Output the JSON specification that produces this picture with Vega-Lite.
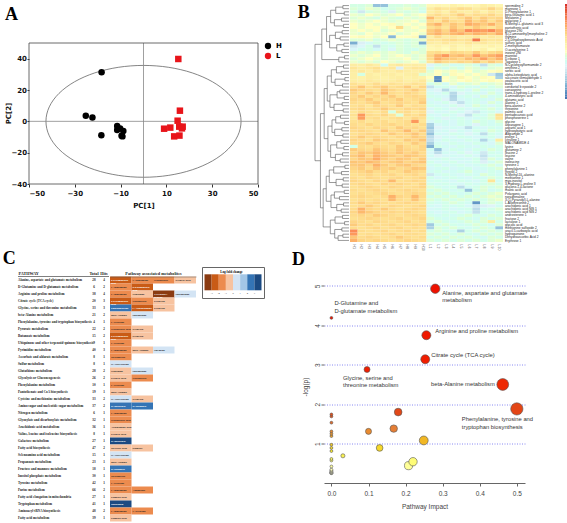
{
"$schema":"https://vega.github.io/schema/vega-lite/v6.json",
"padding":{"left":2,"top":2,"right":0,"bottom":0},
"background":"white",
"config":{"view":{"stroke":null},"font":"Liberation Sans","legend":{"gradientLength":57,"gradientHorizontalMinLength":10,"gradientHorizontalMaxLength":300}},
"datasets":{
"pca":[
{"group":"H","pc1":-18.3,"pc2":31.4},{"group":"H","pc1":-25.2,"pc2":3.6},{"group":"H","pc1":-22.3,"pc2":2.4},{"group":"H","pc1":-18.4,"pc2":-8.9},{"group":"H","pc1":-11.5,"pc2":-3.0},{"group":"H","pc1":-11.5,"pc2":-5.5},{"group":"H","pc1":-10.2,"pc2":-4.5},{"group":"H","pc1":-8.8,"pc2":-6.2},{"group":"H","pc1":-9.2,"pc2":-9.6},{"group":"H","pc1":-9.6,"pc2":-9.2},
{"group":"L","pc1":15.2,"pc2":39.8},{"group":"L","pc1":15.9,"pc2":6.8},{"group":"L","pc1":14.9,"pc2":0.4},{"group":"L","pc1":9.0,"pc2":-4.7},{"group":"L","pc1":11.7,"pc2":-4.0},{"group":"L","pc1":15.6,"pc2":-3.4},{"group":"L","pc1":17.1,"pc2":-3.4},{"group":"L","pc1":16.8,"pc2":-4.5},{"group":"L","pc1":13.4,"pc2":-9.6},{"group":"L","pc1":15.7,"pc2":-9.1}],
"ellipse":[
{"i":0,"pc1":42.6,"pc2":0},{"i":1,"pc1":41.15,"pc2":9.24},{"i":2,"pc1":36.89,"pc2":17.85},{"i":3,"pc1":30.12,"pc2":25.24},{"i":4,"pc1":21.3,"pc2":30.92},{"i":5,"pc1":11.03,"pc2":34.48},{"i":6,"pc1":0,"pc2":35.7},{"i":7,"pc1":-11.03,"pc2":34.48},{"i":8,"pc1":-21.3,"pc2":30.92},{"i":9,"pc1":-30.12,"pc2":25.24},{"i":10,"pc1":-36.89,"pc2":17.85},{"i":11,"pc1":-41.15,"pc2":9.24},{"i":12,"pc1":-42.6,"pc2":0},{"i":13,"pc1":-41.15,"pc2":-9.24},{"i":14,"pc1":-36.89,"pc2":-17.85},{"i":15,"pc1":-30.12,"pc2":-25.24},{"i":16,"pc1":-21.3,"pc2":-30.92},{"i":17,"pc1":-11.03,"pc2":-34.48},{"i":18,"pc1":0,"pc2":-35.7},{"i":19,"pc1":11.03,"pc2":-34.48},{"i":20,"pc1":21.3,"pc2":-30.92},{"i":21,"pc1":30.12,"pc2":-25.24},{"i":22,"pc1":36.89,"pc2":-17.85},{"i":23,"pc1":41.15,"pc2":-9.24}],
"cbar":[{"v":-4},{"v":-3.8},{"v":-3.6},{"v":-3.4},{"v":-3.2},{"v":-3},{"v":-2.8},{"v":-2.6},{"v":-2.4},{"v":-2.2},{"v":-2},{"v":-1.8},{"v":-1.6},{"v":-1.4},{"v":-1.2},{"v":-1},{"v":-0.8},{"v":-0.6},{"v":-0.4},{"v":-0.2},{"v":0},{"v":0.2},{"v":0.4},{"v":0.6},{"v":0.8},{"v":1},{"v":1.2},{"v":1.4},{"v":1.6},{"v":1.8},{"v":2},{"v":2.2},{"v":2.4},{"v":2.6},{"v":2.8},{"v":3},{"v":3.2},{"v":3.4},{"v":3.6},{"v":3.8},{"v":4}],
"dendro":[
{"a":1,"b":2,"ha":0,"hb":0,"h":1.8},{"a":3,"b":4,"ha":0,"hb":0,"h":1.4},{"a":5,"b":6,"ha":0,"hb":0,"h":2.2},{"a":7,"b":8,"ha":0,"hb":0,"h":1.6},{"a":9,"b":10,"ha":0,"hb":0,"h":2.0},{"a":11,"b":12,"ha":0,"hb":0,"h":2.6},{"a":13,"b":14,"ha":0,"hb":0,"h":1.5},{"a":15,"b":16,"ha":0,"hb":0,"h":2.1},{"a":17,"b":18,"ha":0,"hb":0,"h":1.3},
{"a":17.5,"b":19,"ha":1.3,"hb":0,"h":3.0},{"a":1.5,"b":3.5,"ha":1.8,"hb":1.4,"h":3.9},{"a":5.5,"b":7.5,"ha":2.2,"hb":1.6,"h":4.3},{"a":9.5,"b":11.5,"ha":2.0,"hb":2.6,"h":4.0},{"a":13.5,"b":15.5,"ha":1.5,"hb":2.1,"h":3.6},
{"a":2.5,"b":6.5,"ha":3.9,"hb":4.3,"h":5.4},{"a":10.5,"b":14.5,"ha":4.0,"hb":3.6,"h":5.7},{"a":4.5,"b":12.5,"ha":5.4,"hb":5.7,"h":6.6},{"a":8.5,"b":18.25,"ha":6.6,"hb":3.0,"h":8.0},
{"a":20,"b":21,"ha":0,"hb":0,"h":1.6},{"a":22,"b":23,"ha":0,"hb":0,"h":2.3},{"a":24,"b":25,"ha":0,"hb":0,"h":1.2},{"a":26,"b":27,"ha":0,"hb":0,"h":1.9},{"a":28,"b":29,"ha":0,"hb":0,"h":2.7},{"a":30,"b":31,"ha":0,"hb":0,"h":1.4},{"a":32,"b":33,"ha":0,"hb":0,"h":2.0},{"a":34,"b":35,"ha":0,"hb":0,"h":1.7},{"a":36,"b":37,"ha":0,"hb":0,"h":2.5},{"a":38,"b":39,"ha":0,"hb":0,"h":1.3},{"a":40,"b":41,"ha":0,"hb":0,"h":2.1},{"a":42,"b":43,"ha":0,"hb":0,"h":1.8},{"a":44,"b":45,"ha":0,"hb":0,"h":2.4},{"a":46,"b":47,"ha":0,"hb":0,"h":1.5},{"a":48,"b":49,"ha":0,"hb":0,"h":1.9},{"a":50,"b":51,"ha":0,"hb":0,"h":2.6},{"a":52,"b":53,"ha":0,"hb":0,"h":1.2},{"a":54,"b":55,"ha":0,"hb":0,"h":2.2},{"a":56,"b":57,"ha":0,"hb":0,"h":1.7},{"a":58,"b":59,"ha":0,"hb":0,"h":2.0},{"a":60,"b":61,"ha":0,"hb":0,"h":1.4},{"a":62,"b":63,"ha":0,"hb":0,"h":2.8},{"a":64,"b":65,"ha":0,"hb":0,"h":1.6},{"a":66,"b":67,"ha":0,"hb":0,"h":2.3},{"a":68,"b":69,"ha":0,"hb":0,"h":1.9},{"a":70,"b":71,"ha":0,"hb":0,"h":1.3},{"a":72,"b":73,"ha":0,"hb":0,"h":2.1},{"a":74,"b":75,"ha":0,"hb":0,"h":1.8},
{"a":74.5,"b":76,"ha":1.8,"hb":0,"h":3.2},
{"a":20.5,"b":22.5,"ha":1.6,"hb":2.3,"h":3.7},{"a":24.5,"b":26.5,"ha":1.2,"hb":1.9,"h":4.1},{"a":28.5,"b":30.5,"ha":2.7,"hb":1.4,"h":3.5},{"a":32.5,"b":34.5,"ha":2.0,"hb":1.7,"h":4.4},{"a":36.5,"b":38.5,"ha":2.5,"hb":1.3,"h":3.9},{"a":40.5,"b":42.5,"ha":2.1,"hb":1.8,"h":4.2},{"a":44.5,"b":46.5,"ha":2.4,"hb":1.5,"h":3.6},{"a":48.5,"b":50.5,"ha":1.9,"hb":2.6,"h":4.0},{"a":52.5,"b":54.5,"ha":1.2,"hb":2.2,"h":4.5},{"a":56.5,"b":58.5,"ha":1.7,"hb":2.0,"h":3.8},{"a":60.5,"b":62.5,"ha":1.4,"hb":2.8,"h":4.3},{"a":64.5,"b":66.5,"ha":1.6,"hb":2.3,"h":3.6},{"a":68.5,"b":70.5,"ha":1.9,"hb":1.3,"h":4.1},{"a":72.5,"b":75.25,"ha":2.1,"hb":3.2,"h":4.2},
{"a":21.5,"b":25.5,"ha":3.7,"hb":4.1,"h":5.2},{"a":29.5,"b":33.5,"ha":3.5,"hb":4.4,"h":5.6},{"a":37.5,"b":41.5,"ha":3.9,"hb":4.2,"h":5.0},{"a":45.5,"b":49.5,"ha":3.6,"hb":4.0,"h":5.4},{"a":53.5,"b":57.5,"ha":4.5,"hb":3.8,"h":5.8},{"a":61.5,"b":65.5,"ha":4.3,"hb":3.6,"h":5.3},{"a":69.5,"b":73.875,"ha":4.1,"hb":4.2,"h":5.5},
{"a":23.5,"b":31.5,"ha":5.2,"hb":5.6,"h":6.4},{"a":39.5,"b":47.5,"ha":5.0,"hb":5.4,"h":6.2},{"a":55.5,"b":63.5,"ha":5.8,"hb":5.3,"h":6.7},
{"a":27.5,"b":43.5,"ha":6.4,"hb":6.2,"h":7.3},{"a":59.5,"b":71.6875,"ha":6.7,"hb":5.5,"h":7.6},
{"a":35.5,"b":65.59375,"ha":7.3,"hb":7.6,"h":8.4},
{"a":13.375,"b":50.546875,"ha":8.0,"hb":8.4,"h":10}],
"heat":[
{"o":1,"m":"spermidine 2","H1":-0.6,"H2":-0.6,"H3":-0.4,"H4":-2.6,"H5":-2.6,"H6":-0.6,"H7":-0.6,"H8":-0.4,"H9":-0.6,"H10":-0.4,"L1":0.3,"L2":0.4,"L3":0.3,"L4":0.6,"L5":0.4,"L6":0.3,"L7":0.4,"L8":0.7,"L9":0.6,"L10":0.4},
{"o":2,"m":"mannose 1","H1":-0.4,"H2":-0.6,"H3":-0.2,"H4":-0.4,"H5":-0.8,"H6":-0.6,"H7":-0.4,"H8":-0.2,"H9":-0.4,"H10":-0.6,"L1":0.8,"L2":1.3,"L3":1.0,"L4":1.1,"L5":1.4,"L6":1.3,"L7":0.8,"L8":1.1,"L9":1.5,"L10":1.0},
{"o":3,"m":"D-Phenylalanine 1","H1":-0.6,"H2":-1.6,"H3":-0.6,"H4":-0.4,"H5":-0.6,"H6":-1.4,"H7":-0.4,"H8":-0.6,"H9":-0.4,"H10":-0.8,"L1":0.7,"L2":1.0,"L3":0.6,"L4":1.3,"L5":0.8,"L6":0.7,"L7":1.1,"L8":0.6,"L9":1.0,"L10":0.8},
{"o":4,"m":"beta-Glutamic acid 1","H1":-0.2,"H2":-0.4,"H3":0,"H4":-0.2,"H5":-0.4,"H6":-0.2,"H7":0,"H8":-0.4,"H9":-0.2,"H10":0,"L1":1.1,"L2":1.4,"L3":1.0,"L4":1.3,"L5":1.7,"L6":1.1,"L7":1.4,"L8":1.3,"L9":1.5,"L10":1.1},
{"o":5,"m":"Melatonin 2","H1":-0.4,"H2":-0.2,"H3":-0.4,"H4":-0.6,"H5":-0.2,"H6":-0.4,"H7":-0.6,"H8":-0.2,"H9":-0.4,"H10":-0.2,"L1":2.0,"L2":1.3,"L3":1.5,"L4":1.1,"L5":1.4,"L6":1.8,"L7":1.3,"L8":1.7,"L9":1.4,"L10":1.5},
{"o":6,"m":"galactose 1","H1":-0.2,"H2":-0.4,"H3":-0.2,"H4":0,"H5":-0.2,"H6":-0.4,"H7":-0.2,"H8":-0.2,"H9":0,"H10":-0.4,"L1":1.4,"L2":1.1,"L3":1.7,"L4":1.4,"L5":1.3,"L6":2.0,"L7":1.5,"L8":1.8,"L9":1.3,"L10":1.7},
{"o":7,"m":"N-Methyl-L-glutamic acid 3","H1":0,"H2":-0.2,"H3":0,"H4":-0.2,"H5":0,"H6":0.2,"H7":-0.2,"H8":0,"H9":-0.2,"H10":0,"L1":1.7,"L2":2.1,"L3":1.4,"L4":1.8,"L5":1.5,"L6":2.2,"L7":2.0,"L8":1.7,"L9":2.1,"L10":1.5},
{"o":8,"m":"pantothenic acid","H1":0,"H2":-0.2,"H3":0,"H4":0,"H5":-0.2,"H6":0,"H7":1.4,"H8":-0.2,"H9":0,"H10":-0.2,"L1":1.3,"L2":1.5,"L3":1.1,"L4":1.8,"L5":1.4,"L6":1.3,"L7":1.7,"L8":1.4,"L9":1.1,"L10":1.5},
{"o":9,"m":"glucose 290","H1":-0.2,"H2":0,"H3":-0.2,"H4":0,"H5":-0.4,"H6":-0.2,"H7":0,"H8":-0.2,"H9":-0.2,"H10":0,"L1":1.7,"L2":2.0,"L3":1.5,"L4":2.2,"L5":1.8,"L6":2.7,"L7":2.5,"L8":2.4,"L9":2.7,"L10":2.1},
{"o":10,"m":"N-(2-aminoethyl)morpholine 2","H1":-0.2,"H2":-0.4,"H3":0,"H4":-0.2,"H5":-0.2,"H6":0,"H7":-0.4,"H8":-0.2,"H9":0,"H10":-0.2,"L1":1.8,"L2":2.1,"L3":1.7,"L4":2.0,"L5":2.2,"L6":1.8,"L7":2.1,"L8":2.0,"L9":1.7,"L10":2.2},
{"o":11,"m":"thymine","H1":0,"H2":0.2,"H3":0,"H4":-0.2,"H5":0,"H6":-2.8,"H7":0,"H8":0,"H9":0.2,"H10":-3.0,"L1":0.7,"L2":1.4,"L3":0.8,"L4":1.0,"L5":0.7,"L6":0.8,"L7":1.1,"L8":0.7,"L9":1.0,"L10":0.8},
{"o":12,"m":"2,5-Dihydroxybenzoic Acid","H1":-0.4,"H2":-0.4,"H3":-0.2,"H4":-0.6,"H5":-0.4,"H6":-0.2,"H7":-0.4,"H8":-0.6,"H9":-0.4,"H10":-0.2,"L1":1.1,"L2":1.0,"L3":1.3,"L4":1.4,"L5":1.1,"L6":1.3,"L7":3.0,"L8":1.3,"L9":1.0,"L10":1.1},
{"o":13,"m":"sulfuric acid","H1":-3.0,"H2":-1.4,"H3":-1.0,"H4":-0.6,"H5":-0.8,"H6":-0.6,"H7":-0.4,"H8":-0.6,"H9":-0.4,"H10":-3.0,"L1":0.8,"L2":0.7,"L3":1.0,"L4":0.8,"L5":0.7,"L6":1.1,"L7":0.8,"L8":1.0,"L9":0.7,"L10":0.8},
{"o":14,"m":"2-methylfumarate","H1":-1.6,"H2":-1.2,"H3":-0.6,"H4":-1.8,"H5":-0.6,"H6":-0.8,"H7":-0.4,"H8":-0.6,"H9":-0.4,"H10":-0.6,"L1":0.4,"L2":0.6,"L3":0.3,"L4":0.7,"L5":0.4,"L6":0.6,"L7":0.3,"L8":0.4,"L9":0.6,"L10":0.4},
{"o":15,"m":"O-acetylserine 1","H1":-1.2,"H2":-0.8,"H3":-0.6,"H4":-1.0,"H5":-0.6,"H6":-1.2,"H7":-0.4,"H8":-0.6,"H9":-0.8,"H10":-0.4,"L1":0.3,"L2":0.4,"L3":0.1,"L4":0.6,"L5":0.3,"L6":0.4,"L7":0.3,"L8":0.6,"L9":0.1,"L10":0.4},
{"o":16,"m":"inosine 2NI","H1":-0.4,"H2":-0.2,"H3":-0.4,"H4":-0.2,"H5":-0.4,"H6":-0.2,"H7":-0.4,"H8":-0.6,"H9":-0.2,"H10":-0.4,"L1":1.3,"L2":1.4,"L3":1.1,"L4":1.5,"L5":1.4,"L6":1.3,"L7":1.7,"L8":1.1,"L9":1.4,"L10":1.5},
{"o":17,"m":"mannitol","H1":-0.2,"H2":-0.4,"H3":-0.2,"H4":0,"H5":-0.4,"H6":-0.2,"H7":0,"H8":-0.2,"H9":-0.4,"H10":-0.2,"L1":1.5,"L2":2.1,"L3":2.5,"L4":1.8,"L5":2.0,"L6":1.7,"L7":2.5,"L8":1.8,"L9":2.1,"L10":2.4},
{"o":18,"m":"D-ribose 1","H1":-0.4,"H2":-0.2,"H3":0,"H4":-0.2,"H5":-0.4,"H6":-0.2,"H7":-0.2,"H8":0,"H9":-0.4,"H10":-0.2,"L1":1.4,"L2":2.2,"L3":1.8,"L4":1.7,"L5":1.5,"L6":2.0,"L7":1.8,"L8":2.4,"L9":1.7,"L10":2.1},
{"o":19,"m":"Tagatose 1","H1":-0.2,"H2":-0.4,"H3":-0.2,"H4":-0.4,"H5":0,"H6":-0.2,"H7":-0.4,"H8":-0.2,"H9":0,"H10":-0.4,"L1":1.1,"L2":1.7,"L3":1.4,"L4":1.3,"L5":1.5,"L6":1.4,"L7":1.8,"L8":1.3,"L9":1.7,"L10":1.4},
{"o":20,"m":"N-Cyclohexylformamide 2","H1":0.8,"H2":0.7,"H3":1.0,"H4":0.7,"H5":-0.9,"H6":0.8,"H7":1.0,"H8":0.7,"H9":0.8,"H10":0.7,"L1":-1.3,"L2":-0.7,"L3":-0.4,"L4":-0.9,"L5":-0.7,"L6":-0.4,"L7":-0.7,"L8":-1.8,"L9":-0.4,"L10":-0.7},
{"o":21,"m":"ornithine 2","H1":1.1,"H2":0.8,"H3":1.0,"H4":1.3,"H5":0.8,"H6":1.0,"H7":-1.4,"H8":0.8,"H9":1.1,"H10":1.0,"L1":-0.9,"L2":-0.4,"L3":-0.7,"L4":-0.4,"L5":-0.7,"L6":-0.2,"L7":-0.4,"L8":-0.7,"L9":-0.4,"L10":-0.2},
{"o":22,"m":"sorbic acid","H1":0.8,"H2":1.0,"H3":0.7,"H4":1.1,"H5":0.8,"H6":0.7,"H7":1.0,"H8":0.8,"H9":0.7,"H10":0.8,"L1":-0.4,"L2":0,"L3":-0.2,"L4":0.2,"L5":-0.2,"L6":0,"L7":-0.4,"L8":-0.2,"L9":0,"L10":0.2},
{"o":23,"m":"alpha-ketoglutaric acid","H1":0.7,"H2":-0.6,"H3":0.8,"H4":0.6,"H5":0.7,"H6":0.8,"H7":0.6,"H8":0.7,"H9":0.8,"H10":-0.4,"L1":-0.2,"L2":0,"L3":-0.4,"L4":0.2,"L5":0,"L6":-0.2,"L7":0,"L8":-0.2,"L9":-1.6,"L10":-2.4},
{"o":24,"m":"succinate semialdehyde 1","H1":0.7,"H2":0.6,"H3":0.8,"H4":0.7,"H5":0.6,"H6":0.7,"H7":0.8,"H8":0.6,"H9":0.7,"H10":0.6,"L1":0,"L2":-3.5,"L3":0,"L4":-0.2,"L5":0.4,"L6":0,"L7":-0.2,"L8":0.2,"L9":0,"L10":-2.2},
{"o":25,"m":"oxaloacetic acid","H1":0.8,"H2":0.7,"H3":1.0,"H4":0.8,"H5":0.7,"H6":0.8,"H7":1.0,"H8":0.7,"H9":0.8,"H10":1.0,"L1":-0.2,"L2":-3.6,"L3":0,"L4":-0.2,"L5":0,"L6":0.2,"L7":-0.2,"L8":0,"L9":0.2,"L10":0},
{"o":26,"m":"biotin","H1":1.3,"H2":1.0,"H3":1.1,"H4":1.4,"H5":1.0,"H6":1.3,"H7":1.1,"H8":1.0,"H9":1.3,"H10":1.1,"L1":-0.7,"L2":-0.4,"L3":-0.9,"L4":-0.2,"L5":-0.7,"L6":-0.4,"L7":-0.2,"L8":-0.7,"L9":-0.4,"L10":-0.2},
{"o":27,"m":"conduritol b epoxide 2","H1":1.4,"H2":1.8,"H3":1.3,"H4":1.5,"H5":1.7,"H6":1.3,"H7":1.4,"H8":1.7,"H9":1.1,"H10":1.5,"L1":-1.8,"L2":-0.9,"L3":-0.7,"L4":-1.1,"L5":-0.4,"L6":-0.7,"L7":-0.9,"L8":-0.4,"L9":-0.7,"L10":-0.4},
{"o":28,"m":"canavanine","H1":1.7,"H2":1.5,"H3":1.4,"H4":1.3,"H5":1.8,"H6":1.5,"H7":1.3,"H8":1.4,"H9":1.7,"H10":1.3,"L1":-1.1,"L2":-1.3,"L3":-2.0,"L4":-0.9,"L5":-0.7,"L6":-1.1,"L7":-0.4,"L8":-0.9,"L9":-0.7,"L10":-1.1},
{"o":29,"m":"trans-4-hydroxy-L-proline 2","H1":1.5,"H2":1.3,"H3":1.7,"H4":1.4,"H5":2.0,"H6":1.4,"H7":1.3,"H8":1.5,"H9":1.4,"H10":1.1,"L1":-0.9,"L2":-1.1,"L3":-0.7,"L4":-2.0,"L5":-1.3,"L6":-0.9,"L7":-0.7,"L8":-1.1,"L9":-0.4,"L10":-0.9},
{"o":30,"m":"4-aminobutyric acid","H1":1.4,"H2":1.7,"H3":1.3,"H4":1.5,"H5":1.4,"H6":1.7,"H7":1.3,"H8":1.4,"H9":1.5,"H10":1.4,"L1":-0.7,"L2":-0.9,"L3":-1.1,"L4":-2.1,"L5":-0.9,"L6":-0.7,"L7":-1.1,"L8":-0.4,"L9":-0.9,"L10":-0.7},
{"o":31,"m":"glutamic acid","H1":1.5,"H2":1.4,"H3":1.7,"H4":1.3,"H5":1.5,"H6":1.4,"H7":1.7,"H8":1.3,"H9":1.4,"H10":1.5,"L1":-1.1,"L2":-0.7,"L3":-1.3,"L4":-2.0,"L5":-1.1,"L6":-0.9,"L7":-0.7,"L8":-0.9,"L9":-1.1,"L10":-0.4},
{"o":32,"m":"alanine 1","H1":1.4,"H2":1.3,"H3":1.5,"H4":1.7,"H5":1.3,"H6":1.4,"H7":1.5,"H8":1.4,"H9":1.3,"H10":1.7,"L1":-0.9,"L2":-1.1,"L3":-0.7,"L4":-1.3,"L5":-1.8,"L6":-0.9,"L7":-0.7,"L8":-1.1,"L9":-0.4,"L10":-0.9},
{"o":33,"m":"beta-alanine 2","H1":1.3,"H2":1.4,"H3":1.1,"H4":1.5,"H5":1.4,"H6":1.3,"H7":1.7,"H8":1.1,"H9":1.4,"H10":1.3,"L1":-0.7,"L2":-0.9,"L3":-1.1,"L4":-0.7,"L5":-1.3,"L6":-0.9,"L7":-0.4,"L8":-0.7,"L9":-1.1,"L10":-0.7},
{"o":34,"m":"threonine","H1":1.4,"H2":1.5,"H3":1.3,"H4":1.4,"H5":1.7,"H6":1.4,"H7":1.3,"H8":1.5,"H9":1.4,"H10":1.5,"L1":-1.1,"L2":-0.7,"L3":-0.9,"L4":-1.3,"L5":-0.7,"L6":-1.1,"L7":-0.9,"L8":-0.7,"L9":-0.4,"L10":-0.9},
{"o":35,"m":"palmitic acid","H1":1.1,"H2":1.4,"H3":1.3,"H4":1.1,"H5":1.4,"H6":-0.6,"H7":1.3,"H8":1.4,"H9":1.1,"H10":1.3,"L1":-1.3,"L2":-0.9,"L3":-1.1,"L4":-0.7,"L5":-0.9,"L6":-1.3,"L7":-1.6,"L8":-0.9,"L9":-0.7,"L10":-1.1},
{"o":36,"m":"pentadecanoic acid","H1":1.3,"H2":2.5,"H3":1.4,"H4":1.3,"H5":1.5,"H6":1.1,"H7":-0.4,"H8":1.4,"H9":1.3,"H10":1.5,"L1":-0.9,"L2":-1.1,"L3":-0.7,"L4":-0.9,"L5":-1.3,"L6":-1.8,"L7":-0.7,"L8":-0.9,"L9":-0.4,"L10":1.3},
{"o":37,"m":"phosphoserine 1","H1":1.1,"H2":2.4,"H3":1.3,"H4":1.4,"H5":1.1,"H6":1.3,"H7":1.4,"H8":1.1,"H9":1.5,"H10":1.3,"L1":-0.7,"L2":-0.9,"L3":-1.3,"L4":-0.9,"L5":-0.7,"L6":-1.1,"L7":-0.9,"L8":-0.7,"L9":-0.4,"L10":1.1},
{"o":38,"m":"glycine","H1":1.3,"H2":1.4,"H3":1.1,"H4":1.3,"H5":1.4,"H6":1.1,"H7":1.3,"H8":1.4,"H9":2.5,"H10":1.1,"L1":-1.1,"L2":-0.7,"L3":-0.9,"L4":-1.1,"L5":-0.7,"L6":-0.9,"L7":-0.4,"L8":-0.7,"L9":-0.9,"L10":-0.4},
{"o":39,"m":"asparagine 1","H1":1.4,"H2":1.3,"H3":1.5,"H4":1.3,"H5":1.4,"H6":1.5,"H7":1.3,"H8":1.4,"H9":1.3,"H10":1.4,"L1":-2.2,"L2":-1.1,"L3":-0.9,"L4":-1.1,"L5":-0.7,"L6":-0.9,"L7":-1.3,"L8":-0.7,"L9":-0.9,"L10":-0.7},
{"o":40,"m":"aspartic acid 1","H1":1.5,"H2":1.4,"H3":1.3,"H4":1.5,"H5":1.4,"H6":1.3,"H7":1.7,"H8":1.4,"H9":1.5,"H10":1.3,"L1":-2.4,"L2":-1.3,"L3":-1.1,"L4":-0.9,"L5":-1.1,"L6":-1.9,"L7":-0.9,"L8":-1.1,"L9":-0.7,"L10":-0.9},
{"o":41,"m":"hydroxybutyric acid","H1":1.4,"H2":1.5,"H3":1.4,"H4":1.3,"H5":1.8,"H6":1.4,"H7":1.5,"H8":2.0,"H9":1.4,"H10":1.7,"L1":-2.1,"L2":-1.1,"L3":-0.9,"L4":-1.3,"L5":-0.9,"L6":-1.1,"L7":-0.7,"L8":-0.9,"L9":-0.4,"L10":-0.7},
{"o":42,"m":"Adipamide 2","H1":1.3,"H2":1.4,"H3":1.5,"H4":1.4,"H5":1.3,"H6":1.7,"H7":1.4,"H8":1.5,"H9":1.8,"H10":1.4,"L1":-2.6,"L2":-0.9,"L3":-1.1,"L4":-0.7,"L5":-0.9,"L6":-1.3,"L7":-0.9,"L8":-1.9,"L9":-0.7,"L10":-0.9},
{"o":43,"m":"proline 1","H1":1.4,"H2":1.7,"H3":1.4,"H4":1.5,"H5":1.4,"H6":1.3,"H7":1.5,"H8":1.4,"H9":1.7,"H10":1.5,"L1":-1.9,"L2":-1.3,"L3":-0.9,"L4":-1.1,"L5":-0.7,"L6":-0.9,"L7":-1.1,"L8":-0.9,"L9":-0.7,"L10":-1.1},
{"o":44,"m":"citrulline 1","H1":1.5,"H2":1.4,"H3":1.3,"H4":1.7,"H5":1.5,"H6":1.4,"H7":1.3,"H8":1.7,"H9":1.5,"H10":1.8,"L1":-1.8,"L2":-1.1,"L3":-0.7,"L4":-0.9,"L5":-1.1,"L6":-0.7,"L7":-0.9,"L8":-2.1,"L9":-0.9,"L10":0.8},
{"o":45,"m":"MALONAMIDE 4","H1":1.4,"H2":1.5,"H3":1.7,"H4":1.4,"H5":1.3,"H6":1.5,"H7":1.4,"H8":1.3,"H9":1.7,"H10":1.4,"L1":-2.2,"L2":-0.9,"L3":-1.1,"L4":-0.7,"L5":-0.9,"L6":-1.1,"L7":-0.7,"L8":-0.9,"L9":-1.1,"L10":-0.4},
{"o":46,"m":"lysine","H1":-0.6,"H2":1.4,"H3":1.3,"H4":1.5,"H5":1.4,"H6":1.3,"H7":1.7,"H8":1.4,"H9":1.3,"H10":1.5,"L1":-2.9,"L2":-0.7,"L3":-0.9,"L4":-1.1,"L5":-0.7,"L6":-0.9,"L7":-1.1,"L8":-0.7,"L9":-0.9,"L10":-0.7},
{"o":47,"m":"glutamine 2","H1":1.7,"H2":1.5,"H3":1.4,"H4":1.8,"H5":1.5,"H6":1.4,"H7":1.7,"H8":1.5,"H9":1.4,"H10":1.5,"L1":-0.9,"L2":-2.6,"L3":-1.1,"L4":-0.7,"L5":-0.9,"L6":-1.1,"L7":-0.7,"L8":-0.9,"L9":-0.4,"L10":-0.7},
{"o":48,"m":"leucine 2","H1":1.5,"H2":1.8,"H3":1.7,"H4":2.0,"H5":1.7,"H6":1.5,"H7":1.8,"H8":1.5,"H9":1.7,"H10":1.4,"L1":-1.1,"L2":-1.9,"L3":-0.9,"L4":-1.1,"L5":-0.7,"L6":-1.3,"L7":-0.9,"L8":-1.6,"L9":-0.7,"L10":-0.9},
{"o":49,"m":"leucine","H1":1.7,"H2":2.0,"H3":1.5,"H4":2.1,"H5":1.8,"H6":1.7,"H7":1.5,"H8":1.8,"H9":1.7,"H10":1.5,"L1":-0.9,"L2":-1.3,"L3":-1.1,"L4":-0.9,"L5":-1.1,"L6":-0.7,"L7":-1.1,"L8":-1.8,"L9":-0.9,"L10":-0.7},
{"o":50,"m":"valine","H1":1.5,"H2":1.8,"H3":1.7,"H4":2.2,"H5":1.7,"H6":1.5,"H7":1.8,"H8":1.7,"H9":1.4,"H10":1.7,"L1":-1.1,"L2":-0.9,"L3":-0.7,"L4":-1.1,"L5":-0.9,"L6":-1.1,"L7":-0.7,"L8":-1.6,"L9":-0.4,"L10":-0.9},
{"o":51,"m":"isoleucine","H1":1.8,"H2":1.7,"H3":2.0,"H4":1.8,"H5":1.5,"H6":1.7,"H7":1.8,"H8":1.5,"H9":1.7,"H10":1.8,"L1":-0.7,"L2":-1.1,"L3":-0.9,"L4":-0.7,"L5":-1.1,"L6":-0.9,"L7":-0.7,"L8":-1.4,"L9":-0.9,"L10":-0.4},
{"o":52,"m":"tyrosine 1","H1":1.7,"H2":1.8,"H3":1.5,"H4":2.1,"H5":1.7,"H6":1.4,"H7":1.7,"H8":1.8,"H9":1.5,"H10":1.4,"L1":-0.9,"L2":-0.7,"L3":-1.1,"L4":-0.9,"L5":-0.7,"L6":-1.1,"L7":-0.9,"L8":-0.7,"L9":-0.4,"L10":-0.9},
{"o":53,"m":"phenylalanine 1","H1":1.5,"H2":1.7,"H3":1.4,"H4":1.8,"H5":1.5,"H6":1.7,"H7":1.4,"H8":1.5,"H9":1.8,"H10":1.7,"L1":-1.1,"L2":-0.9,"L3":-0.7,"L4":-1.1,"L5":-0.9,"L6":-0.7,"L7":-1.1,"L8":-0.9,"L9":-0.7,"L10":-0.4},
{"o":54,"m":"threitol 2","H1":1.4,"H2":1.5,"H3":1.7,"H4":1.4,"H5":1.5,"H6":1.3,"H7":1.4,"H8":1.7,"H9":1.5,"H10":1.4,"L1":-0.9,"L2":-0.7,"L3":-1.1,"L4":-0.9,"L5":-0.7,"L6":-0.4,"L7":-0.9,"L8":-1.1,"L9":-0.7,"L10":-0.9},
{"o":55,"m":"N-Methyl-DL-alanine","H1":1.3,"H2":1.4,"H3":1.5,"H4":1.3,"H5":1.4,"H6":1.5,"H7":1.3,"H8":1.4,"H9":1.5,"H10":1.3,"L1":-1.6,"L2":-0.9,"L3":-0.7,"L4":-0.9,"L5":-1.1,"L6":-0.7,"L7":-0.9,"L8":-0.4,"L9":-0.7,"L10":-0.9},
{"o":56,"m":"methionine 1","H1":1.4,"H2":1.3,"H3":1.5,"H4":1.4,"H5":1.3,"H6":1.4,"H7":1.5,"H8":1.3,"H9":1.4,"H10":1.5,"L1":-0.7,"L2":-1.1,"L3":-0.9,"L4":-0.7,"L5":-0.9,"L6":-1.1,"L7":-0.7,"L8":-0.9,"L9":-0.4,"L10":-0.7},
{"o":57,"m":"myo-inositol","H1":1.5,"H2":1.4,"H3":1.3,"H4":1.5,"H5":1.4,"H6":2.0,"H7":1.3,"H8":1.4,"H9":1.5,"H10":1.4,"L1":-0.9,"L2":-0.7,"L3":-0.9,"L4":-1.1,"L5":-0.7,"L6":-0.9,"L7":-1.1,"L8":-0.7,"L9":1.1,"L10":-0.9},
{"o":58,"m":"3-Hydroxy-L-proline 3","H1":1.4,"H2":1.5,"H3":1.4,"H4":1.3,"H5":1.5,"H6":1.4,"H7":1.5,"H8":1.4,"H9":1.3,"H10":1.5,"L1":-0.7,"L2":-0.9,"L3":-0.7,"L4":-0.9,"L5":-1.1,"L6":-0.7,"L7":-0.9,"L8":-0.7,"L9":-0.4,"L10":-0.7},
{"o":59,"m":"glucono-1,4-lactone","H1":1.3,"H2":1.4,"H3":1.5,"H4":1.4,"H5":1.3,"H6":1.5,"H7":1.4,"H8":1.3,"H9":1.4,"H10":1.5,"L1":-0.4,"L2":-0.7,"L3":-0.9,"L4":-0.7,"L5":-1.9,"L6":-0.9,"L7":-0.7,"L8":-0.4,"L9":-0.7,"L10":-0.4},
{"o":60,"m":"maleic acid","H1":1.4,"H2":1.3,"H3":1.4,"H4":1.5,"H5":1.4,"H6":1.3,"H7":1.4,"H8":1.5,"H9":1.4,"H10":1.3,"L1":-0.7,"L2":-0.4,"L3":-0.7,"L4":-0.9,"L5":-0.7,"L6":-2.6,"L7":-0.7,"L8":-0.4,"L9":-0.9,"L10":-0.7},
{"o":61,"m":"Pelargonic acid","H1":1.3,"H2":1.4,"H3":1.3,"H4":1.4,"H5":1.5,"H6":1.4,"H7":1.3,"H8":1.4,"H9":1.5,"H10":1.4,"L1":-0.4,"L2":-0.7,"L3":-0.4,"L4":-0.7,"L5":-0.9,"L6":-0.7,"L7":-0.4,"L8":-0.7,"L9":-0.4,"L10":-0.2},
{"o":62,"m":"noradrenaline","H1":1.4,"H2":1.5,"H3":1.4,"H4":1.3,"H5":1.4,"H6":2.1,"H7":1.5,"H8":1.4,"H9":2.0,"H10":1.4,"L1":-0.7,"L2":-0.4,"L3":-0.7,"L4":-0.4,"L5":-0.7,"L6":-0.4,"L7":-0.7,"L8":-0.4,"L9":-0.2,"L10":-0.4},
{"o":63,"m":"3-(1-Pyrazolyl)-L-alanine","H1":1.3,"H2":1.4,"H3":1.3,"H4":1.4,"H5":1.3,"H6":2.0,"H7":1.4,"H8":1.3,"H9":1.8,"H10":1.3,"L1":-0.4,"L2":-0.7,"L3":-0.4,"L4":-0.7,"L5":-0.4,"L6":-0.7,"L7":-0.4,"L8":-0.7,"L9":-0.4,"L10":-0.2},
{"o":64,"m":"L-Allothreonine 2","H1":1.4,"H2":1.7,"H3":1.4,"H4":1.5,"H5":1.4,"H6":1.3,"H7":1.4,"H8":1.5,"H9":1.4,"H10":1.3,"L1":-0.7,"L2":-0.9,"L3":-0.7,"L4":-0.4,"L5":-0.7,"L6":-0.9,"L7":-3.4,"L8":-0.7,"L9":-0.4,"L10":-0.7},
{"o":65,"m":"arachidonic acid 1","H1":1.3,"H2":1.4,"H3":1.7,"H4":1.4,"H5":1.3,"H6":1.5,"H7":1.4,"H8":1.3,"H9":1.4,"H10":1.5,"L1":-0.9,"L2":-1.1,"L3":-0.7,"L4":-0.9,"L5":-0.7,"L6":-1.1,"L7":-1.6,"L8":-1.4,"L9":-1.3,"L10":-0.9},
{"o":66,"m":"arachidonic acid NIS 1","H1":1.4,"H2":2.1,"H3":1.5,"H4":1.4,"H5":1.7,"H6":1.4,"H7":1.3,"H8":1.4,"H9":1.5,"H10":1.4,"L1":-1.1,"L2":-0.9,"L3":-0.7,"L4":-1.1,"L5":-0.9,"L6":-0.7,"L7":-1.9,"L8":-0.9,"L9":-0.7,"L10":-0.4},
{"o":67,"m":"arachidonic acid NIS 2","H1":1.5,"H2":2.0,"H3":1.7,"H4":1.5,"H5":1.4,"H6":1.5,"H7":1.4,"H8":1.5,"H9":1.4,"H10":1.3,"L1":-0.9,"L2":-1.1,"L3":-0.9,"L4":-0.7,"L5":-1.1,"L6":-0.9,"L7":-1.8,"L8":-0.7,"L9":-0.9,"L10":-0.7},
{"o":68,"m":"androsterone 1","H1":1.4,"H2":1.5,"H3":1.4,"H4":1.7,"H5":1.5,"H6":1.4,"H7":1.3,"H8":1.4,"H9":1.5,"H10":1.4,"L1":-0.7,"L2":-0.9,"L3":-0.7,"L4":-0.9,"L5":-0.7,"L6":-0.4,"L7":-0.7,"L8":-0.9,"L9":-0.4,"L10":-0.7},
{"o":69,"m":"fructose 2","H1":1.3,"H2":1.4,"H3":1.5,"H4":1.4,"H5":1.3,"H6":1.4,"H7":1.5,"H8":1.3,"H9":1.4,"H10":1.5,"L1":-0.4,"L2":-0.7,"L3":-0.9,"L4":-0.7,"L5":-0.4,"L6":-0.7,"L7":-0.9,"L8":-0.4,"L9":-0.7,"L10":-0.4},
{"o":70,"m":"lactulose 1","H1":1.5,"H2":1.4,"H3":1.3,"H4":1.5,"H5":1.4,"H6":1.3,"H7":1.4,"H8":1.5,"H9":1.3,"H10":1.4,"L1":-0.7,"L2":-0.4,"L3":-0.7,"L4":-0.9,"L5":-0.7,"L6":-0.4,"L7":-0.7,"L8":-0.4,"L9":0.8,"L10":-0.7},
{"o":71,"m":"glycolic acid","H1":1.7,"H2":1.4,"H3":1.5,"H4":1.3,"H5":1.4,"H6":1.5,"H7":1.3,"H8":1.4,"H9":1.5,"H10":1.4,"L1":-2.4,"L2":-0.7,"L3":-0.4,"L4":-0.7,"L5":-0.9,"L6":-0.7,"L7":-0.4,"L8":-0.7,"L9":-0.9,"L10":-0.4},
{"o":72,"m":"methionine sulfoxide 2","H1":1.4,"H2":1.3,"H3":1.4,"H4":1.5,"H5":1.3,"H6":1.4,"H7":1.5,"H8":1.3,"H9":1.4,"H10":1.3,"L1":-2.2,"L2":-0.4,"L3":-0.7,"L4":-0.4,"L5":-0.7,"L6":-0.9,"L7":-0.7,"L8":-0.4,"L9":-0.7,"L10":-2.6},
{"o":73,"m":"uracil-5-carboxylic acid","H1":2.7,"H2":1.4,"H3":1.3,"H4":1.4,"H5":1.5,"H6":1.3,"H7":1.4,"H8":1.5,"H9":1.3,"H10":1.4,"L1":-0.7,"L2":-0.4,"L3":-0.7,"L4":-0.9,"L5":-2.2,"L6":-0.7,"L7":-0.4,"L8":-0.7,"L9":-0.4,"L10":-0.7},
{"o":74,"m":"hydroquinone","H1":2.5,"H2":1.3,"H3":1.4,"H4":1.3,"H5":1.4,"H6":1.5,"H7":1.3,"H8":1.4,"H9":1.4,"H10":1.3,"L1":-0.4,"L2":-0.7,"L3":-0.4,"L4":-0.7,"L5":-0.4,"L6":-0.7,"L7":-0.9,"L8":-0.4,"L9":-0.7,"L10":-0.4},
{"o":75,"m":"Dehydroascorbic Acid 2","H1":1.8,"H2":1.4,"H3":1.5,"H4":1.4,"H5":1.3,"H6":1.4,"H7":1.7,"H8":1.4,"H9":1.3,"H10":1.4,"L1":-0.7,"L2":-0.4,"L3":-0.7,"L4":-0.4,"L5":-0.7,"L6":-0.4,"L7":-0.7,"L8":-0.9,"L9":-0.4,"L10":-0.7},
{"o":76,"m":"Erythrose 1","H1":2.1,"H2":1.5,"H3":1.4,"H4":1.5,"H5":1.4,"H6":1.3,"H7":1.4,"H8":1.5,"H9":1.4,"H10":1.3,"L1":-0.4,"L2":-0.7,"L3":-0.4,"L4":-0.7,"L5":-0.4,"L6":-0.7,"L7":-0.4,"L8":-0.7,"L9":-0.4,"L10":-0.2}],
"pathways":[
{"o":1,"pathway":"Alanine, aspartate and glutamate metabolism","Total":28,"Hits":4},
{"o":2,"pathway":"D-Glutamine and D-glutamate metabolism","Total":6,"Hits":2},
{"o":3,"pathway":"Arginine and proline metabolism","Total":38,"Hits":4},
{"o":4,"pathway":"Citrate cycle (TCA cycle)","Total":20,"Hits":3},
{"o":5,"pathway":"Glycine, serine and threonine metabolism","Total":33,"Hits":3},
{"o":6,"pathway":"beta-Alanine metabolism","Total":21,"Hits":2},
{"o":7,"pathway":"Phenylalanine, tyrosine and tryptophan biosynthesis","Total":4,"Hits":1},
{"o":8,"pathway":"Pyruvate metabolism","Total":22,"Hits":2},
{"o":9,"pathway":"Butanoate metabolism","Total":15,"Hits":2},
{"o":10,"pathway":"Ubiquinone and other terpenoid-quinone biosynthesis","Total":9,"Hits":1},
{"o":11,"pathway":"Pyrimidine metabolism","Total":40,"Hits":3},
{"o":12,"pathway":"Ascorbate and aldarate metabolism","Total":8,"Hits":1},
{"o":13,"pathway":"Sulfur metabolism","Total":8,"Hits":1},
{"o":14,"pathway":"Glutathione metabolism","Total":28,"Hits":2},
{"o":15,"pathway":"Glycolysis or Gluconeogenesis","Total":26,"Hits":2},
{"o":16,"pathway":"Phenylalanine metabolism","Total":10,"Hits":1},
{"o":17,"pathway":"Pantothenate and CoA biosynthesis","Total":19,"Hits":1},
{"o":18,"pathway":"Cysteine and methionine metabolism","Total":33,"Hits":2},
{"o":19,"pathway":"Amino sugar and nucleotide sugar metabolism","Total":37,"Hits":2},
{"o":20,"pathway":"Nitrogen metabolism","Total":6,"Hits":1},
{"o":21,"pathway":"Glyoxylate and dicarboxylate metabolism","Total":32,"Hits":1},
{"o":22,"pathway":"Arachidonic acid metabolism","Total":36,"Hits":1},
{"o":23,"pathway":"Valine, leucine and isoleucine biosynthesis","Total":8,"Hits":1},
{"o":24,"pathway":"Galactose metabolism","Total":27,"Hits":1},
{"o":25,"pathway":"Fatty acid biosynthesis","Total":47,"Hits":2},
{"o":26,"pathway":"Selenoamino acid metabolism","Total":15,"Hits":1},
{"o":27,"pathway":"Propanoate metabolism","Total":23,"Hits":1},
{"o":28,"pathway":"Fructose and mannose metabolism","Total":18,"Hits":1},
{"o":29,"pathway":"Inositol phosphate metabolism","Total":30,"Hits":1},
{"o":30,"pathway":"Tyrosine metabolism","Total":42,"Hits":1},
{"o":31,"pathway":"Purine metabolism","Total":66,"Hits":2},
{"o":32,"pathway":"Fatty acid elongation in mitochondria","Total":27,"Hits":1},
{"o":33,"pathway":"Tryptophan metabolism","Total":41,"Hits":1},
{"o":34,"pathway":"Aminoacyl-tRNA biosynthesis","Total":48,"Hits":2},
{"o":35,"pathway":"Fatty acid metabolism","Total":39,"Hits":1}],
"cells":[
{"o":1,"slot":1,"met":"2-Ketoglutaric|acid","fc":-2.5},{"o":1,"slot":2,"met":"L-Glutamine","fc":-1.6},{"o":1,"slot":3,"met":"Oxaloacetic","fc":-1.2},{"o":1,"slot":4,"met":"Pyruvic acid","fc":-0.6},
{"o":2,"slot":1,"met":"L-Glutamine","fc":-1.6},{"o":2,"slot":2,"met":"2-Ketoglutaric|acid","fc":-2.5},
{"o":3,"slot":1,"met":"L-Glutamine","fc":-1.6},{"o":3,"slot":2,"met":"Ornithine","fc":-0.4},{"o":3,"slot":3,"met":"4-Hydroxy-|proline","fc":-3.5},{"o":3,"slot":4,"met":"Spermidine","fc":0.6},
{"o":4,"slot":1,"met":"2-Ketoglutaric|acid","fc":-2.5},{"o":4,"slot":2,"met":"Oxaloacetic","fc":-1.2},{"o":4,"slot":3,"met":"Pyruvate","fc":-0.6},
{"o":5,"slot":1,"met":"Phosphoserine","fc":2.5},{"o":5,"slot":2,"met":"L-Allothreonine","fc":-2.5},{"o":5,"slot":3,"met":"Pyruvate","fc":-0.6},
{"o":6,"slot":1,"met":"Beta-Alanine","fc":-0.7},{"o":6,"slot":2,"met":"Spermidine","fc":0.6},
{"o":7,"slot":1,"met":"L-Tyrosine","fc":-1.4},
{"o":8,"slot":1,"met":"Oxaloacetic acid","fc":-1.2},{"o":8,"slot":2,"met":"Pyruvate","fc":-0.6},
{"o":9,"slot":1,"met":"2-Ketoglutaric|acid","fc":-2.5},{"o":9,"slot":2,"met":"Pyruvate","fc":-0.6},
{"o":10,"slot":1,"met":"L-Tyrosine","fc":-1.4},
{"o":11,"slot":1,"met":"L-Glutamine","fc":-1.6},{"o":11,"slot":2,"met":"Beta-Alanine","fc":-0.7},{"o":11,"slot":3,"met":"Thymine","fc":0.6},
{"o":12,"slot":1,"met":"Myoinositol","fc":-1.3},
{"o":13,"slot":1,"met":"O-Acetylserine","fc":0.6},
{"o":14,"slot":1,"met":"Ornithine","fc":-0.4},{"o":14,"slot":2,"met":"Spermidine","fc":0.6},
{"o":15,"slot":1,"met":"Pyruvic acid","fc":-0.6},{"o":15,"slot":2,"met":"Oxaloacetic","fc":-1.2},
{"o":16,"slot":1,"met":"L-Tyrosine","fc":-1.4},
{"o":17,"slot":1,"met":"Beta-Alanine","fc":-0.7},
{"o":18,"slot":1,"met":"O-Acetylserine","fc":0.6},{"o":18,"slot":2,"met":"Pyruvate","fc":-0.6},
{"o":19,"slot":1,"met":"D-Galactose","fc":2.5},{"o":19,"slot":2,"met":"D-Mannose","fc":2.5},
{"o":20,"slot":1,"met":"L-Glutamine","fc":-1.6},
{"o":21,"slot":1,"met":"Oxaloacetic acid","fc":-1.2},
{"o":22,"slot":1,"met":"Arachidonic acid","fc":-0.6},
{"o":23,"slot":1,"met":"Pyruvic acid","fc":-0.6},
{"o":24,"slot":1,"met":"D-Galactose","fc":3.5},
{"o":25,"slot":1,"met":"Myristic acid","fc":-0.6},{"o":25,"slot":2,"met":"Palmitic","fc":-0.5},
{"o":26,"slot":1,"met":"O-Acetylserine","fc":0.6},
{"o":27,"slot":1,"met":"Beta-Alanine","fc":-0.7},
{"o":28,"slot":1,"met":"D-Mannose","fc":2.5},
{"o":29,"slot":1,"met":"Myoinositol","fc":-1.3},
{"o":30,"slot":1,"met":"L-Tyrosine","fc":-1.4},
{"o":31,"slot":1,"met":"L-Glutamine","fc":-1.6},{"o":31,"slot":2,"met":"Adenosine","fc":-1.2},
{"o":32,"slot":1,"met":"Palmitic acid","fc":-0.5},
{"o":33,"slot":1,"met":"Melatonin","fc":3.5},
{"o":34,"slot":1,"met":"L-Glutamine","fc":-1.6},{"o":34,"slot":2,"met":"L-Tyrosine","fc":-1.4},
{"o":35,"slot":1,"met":"Palmitic acid","fc":-0.5}],
"impact":[
{"pathway":"Alanine, aspartate and glutamate metabolism","impact":0.28,"logp":4.93,"label":"Alanine, aspartate and glutamate|metabolism"},
{"pathway":"D-Glutamine and D-glutamate metabolism","impact":0,"logp":4.19,"label":"D-Glutamine and|D-glutamate metabolism"},
{"pathway":"Arginine and proline metabolism","impact":0.256,"logp":3.75,"label":"Arginine and proline metabolism"},
{"pathway":"Citrate cycle (TCA cycle)","impact":0.253,"logp":3.14,"label":"Citrate cycle (TCA cycle)"},
{"pathway":"Glycine, serine and threonine metabolism","impact":0.096,"logp":2.88,"label":"Glycine, serine and|threonine metabolism"},
{"pathway":"beta-Alanine metabolism","impact":0.462,"logp":2.5,"label":"beta-Alanine metabolism"},
{"pathway":"Phenylalanine, tyrosine and tryptophan biosynthesis","impact":0.5,"logp":1.88,"label":"Phenylalanine, tyrosine and|tryptophan biosynthesis"},
{"pathway":"Pyruvate metabolism","impact":0.18,"logp":1.8},
{"pathway":"Butanoate metabolism","impact":0,"logp":1.74},
{"pathway":"Ubiquinone and other terpenoid-quinone biosynthesis","impact":0,"logp":1.69},
{"pathway":"Pyrimidine metabolism","impact":0.168,"logp":1.38},
{"pathway":"Ascorbate and aldarate metabolism","impact":0,"logp":1.53},
{"pathway":"Sulfur metabolism","impact":0,"logp":1.31},
{"pathway":"Glutathione metabolism","impact":0.1,"logp":1.31},
{"pathway":"Glycolysis or Gluconeogenesis","impact":0,"logp":1.25},
{"pathway":"Phenylalanine metabolism","impact":0,"logp":1.19},
{"pathway":"Pantothenate and CoA biosynthesis","impact":0,"logp":0.97},
{"pathway":"Cysteine and methionine metabolism","impact":0.249,"logp":1.08},
{"pathway":"Amino sugar and nucleotide sugar metabolism","impact":0.13,"logp":0.89},
{"pathway":"Nitrogen metabolism","impact":0,"logp":0.89},
{"pathway":"Glyoxylate and dicarboxylate metabolism","impact":0,"logp":0.81},
{"pathway":"Arachidonic acid metabolism","impact":0.031,"logp":0.69},
{"pathway":"Valine, leucine and isoleucine biosynthesis","impact":0,"logp":0.61},
{"pathway":"Galactose metabolism","impact":0.22,"logp":0.54},
{"pathway":"Fatty acid biosynthesis","impact":0,"logp":0.57},
{"pathway":"Selenoamino acid metabolism","impact":0,"logp":0.42},
{"pathway":"Propanoate metabolism","impact":0,"logp":0.34},
{"pathway":"Fructose and mannose metabolism","impact":0.208,"logp":0.44},
{"pathway":"Inositol phosphate metabolism","impact":0,"logp":0.3},
{"pathway":"Tyrosine metabolism","impact":0,"logp":0.25},
{"pathway":"Purine metabolism","impact":0,"logp":0.27},
{"pathway":"Fatty acid elongation in mitochondria","impact":0,"logp":0.25},
{"pathway":"Tryptophan metabolism","impact":0,"logp":0.28},
{"pathway":"Aminoacyl-tRNA biosynthesis","impact":0,"logp":0.32},
{"pathway":"Fatty acid metabolism","impact":0,"logp":0.25}]
},
"concat":[
{"concat":[
 {"title":{"text":"A","anchor":"start","frame":"bounds","font":"Liberation Serif","fontSize":18,"fontWeight":"bold","offset":-20},
  "width":229,"height":180,
  "layer":[
   {"data":{"name":"ellipse"},"mark":{"type":"line","interpolate":"cardinal-closed","color":"#666","strokeWidth":0.8},
    "encoding":{"x":{"field":"pc1","type":"quantitative","scale":{"domain":[-50,50],"nice":false},"axis":{"values":[-50,-40,-30,-20,-10,0,10,20,30,40,50],"title":"PC[1]","grid":false,"labelFont":"DejaVu Sans","labelFontWeight":"bold","labelFontSize":7,"labelColor":"#111","labelPadding":2,"titleFont":"DejaVu Sans","titleFontSize":7,"titleColor":"#111","titlePadding":5,"tickSize":3,"tickColor":"#333","domain":false}},
     "y":{"field":"pc2","type":"quantitative","scale":{"domain":[-40,74.9],"nice":false,"zero":false},"axis":{"values":[-40,-30,-20,-10,0,10,20,30,40,50],"title":"PC[2]","titleY":109,"titlePadding":-1,"grid":false,"labelFont":"DejaVu Sans","labelFontWeight":"bold","labelFontSize":7,"labelColor":"#111","labelPadding":0.5,"titleFont":"DejaVu Sans","titleFontSize":7,"titleColor":"#111","tickSize":2,"tickColor":"#333","domain":false}},
     "order":{"field":"i","type":"quantitative"}}},
   {"data":{"values":[{}]},"mark":{"type":"rule","color":"#888","strokeWidth":0.8},"encoding":{"y":{"datum":0,"type":"quantitative"}}},
   {"data":{"values":[{}]},"mark":{"type":"rule","color":"#888","strokeWidth":0.8},"encoding":{"x":{"datum":0,"type":"quantitative"},"y":{"datum":-40,"type":"quantitative"},"y2":{"datum":50}}},
   {"data":{"values":[{}]},"mark":{"type":"rule","color":"#444","strokeWidth":0.8},"encoding":{"x":{"datum":-50,"type":"quantitative"},"y":{"datum":-40,"type":"quantitative"},"y2":{"datum":50}}},
   {"data":{"values":[{}]},"mark":{"type":"rule","color":"#444","strokeWidth":0.8},"encoding":{"x":{"datum":50,"type":"quantitative"},"y":{"datum":-40,"type":"quantitative"},"y2":{"datum":50}}},
   {"data":{"values":[{}]},"mark":{"type":"rule","color":"#444","strokeWidth":0.8},"encoding":{"y":{"datum":50,"type":"quantitative"}}},
   {"data":{"values":[{}]},"mark":{"type":"rule","color":"#444","strokeWidth":0.8},"encoding":{"y":{"datum":-40,"type":"quantitative"}}},
   {"data":{"name":"pca"},"mark":{"type":"point","filled":true,"size":42,"opacity":1},
    "encoding":{"x":{"field":"pc1","type":"quantitative"},"y":{"field":"pc2","type":"quantitative"},
     "color":{"field":"group","type":"nominal","scale":{"domain":["H","L"],"range":["#000000","#e8141a"]},"legend":{"title":null,"orient":"right","offset":-32,"padding":38,"labelFont":"DejaVu Sans","labelFontWeight":"bold","labelFontSize":7,"symbolSize":40,"rowPadding":2}},
     "shape":{"field":"group","type":"nominal","scale":{"domain":["H","L"],"range":["circle","square"]},"legend":{"title":null,"orient":"right","offset":-32,"padding":38,"labelFont":"DejaVu Sans","labelFontWeight":"bold","labelFontSize":7,"symbolSize":40,"rowPadding":2}}}}
  ]},
 {"hconcat":[
  {"title":{"text":"B","orient":"left","anchor":"end","angle":0,"baseline":"top","align":"right","font":"Liberation Serif","fontSize":18,"fontWeight":"bold","offset":-7},
   "width":34,"height":238,
   "data":{"name":"dendro"},
   "layer":[
    {"mark":{"type":"rule","color":"#555","strokeWidth":0.6},"encoding":{"x":{"field":"h","type":"quantitative","scale":{"domain":[0,10],"reverse":true},"axis":null},"y":{"field":"a","type":"quantitative","scale":{"domain":[0.5,76.5],"reverse":true,"nice":false,"zero":false},"axis":null},"y2":{"field":"b"}}},
    {"mark":{"type":"rule","color":"#555","strokeWidth":0.6},"encoding":{"x":{"field":"ha","type":"quantitative"},"x2":{"field":"h"},"y":{"field":"a","type":"quantitative"}}},
    {"mark":{"type":"rule","color":"#555","strokeWidth":0.6},"encoding":{"x":{"field":"hb","type":"quantitative"},"x2":{"field":"h"},"y":{"field":"b","type":"quantitative"}}}
   ]},
  {"hconcat":[
   {"width":153,"height":238,
    "data":{"name":"heat"},
    "transform":[{"fold":["H1","H2","H3","H4","H5","H6","H7","H8","H9","H10","L1","L2","L3","L4","L5","L6","L7","L8","L9","L10"],"as":["sample","value"]}],
    "mark":{"type":"rect"},
    "encoding":{
     "x":{"field":"sample","type":"nominal","scale":{"domain":["H1","H2","H3","H4","H5","H6","H7","H8","H9","H10","L1","L2","L3","L4","L5","L6","L7","L8","L9","L10"],"paddingInner":0,"paddingOuter":0},"axis":{"title":null,"labelFontSize":3.5,"labelAngle":90,"labelColor":"#444","ticks":false,"domain":false,"labelPadding":2}},
     "y":{"field":"m","type":"nominal","sort":{"field":"o","op":"min"},"scale":{"paddingInner":0,"paddingOuter":0},"axis":{"orient":"right","title":null,"labelFontSize":3.2,"labelColor":"#222","ticks":false,"domain":false,"labelPadding":1.5}},
     "color":{"field":"value","type":"quantitative","scale":{"domain":[-4,-2.667,-1.333,0,1.333,2.667,4],"range":["#4575b4","#91bfdb","#e0f3f8","#ffffbf","#fee090","#fc8d59","#d73027"]},"legend":null}}},
   {"width":6,"height":95,
    "data":{"name":"cbar"},
    "mark":{"type":"rect"},
    "encoding":{
     "y":{"field":"v","type":"ordinal","sort":"descending","scale":{"paddingInner":0,"paddingOuter":0},"axis":{"orient":"right","title":null,"values":[-4,-2,0,2,4],"labelFontSize":4,"labelColor":"#333","ticks":false,"domain":false,"labelPadding":1}},
     "color":{"field":"v","type":"quantitative","scale":{"domain":[-4,-2.667,-1.333,0,1.333,2.667,4],"range":["#4575b4","#91bfdb","#e0f3f8","#ffffbf","#fee090","#fc8d59","#d73027"]},"legend":null}}}
  ],"spacing":18}
 ],"spacing":0}
],"columns":2,"align":"none","spacing":-23},
{"concat":[
 {"title":{"text":"C","anchor":"start","font":"Liberation Serif","fontSize":18,"fontWeight":"bold","offset":-1,"dx":-15},
  "hconcat":[
  {"width":80,"height":245,
   "data":{"name":"pathways"},
   "encoding":{"y":{"field":"o","type":"ordinal","axis":null,"scale":{"paddingInner":0,"paddingOuter":0}}},
   "layer":[
    {"mark":{"type":"text","align":"left","baseline":"middle","dx":-16,"font":"Liberation Serif","fontWeight":"bold","fontSize":3.3,"color":"#222"},
     "encoding":{"x":{"datum":"c0","type":"nominal","scale":{"domain":["c0","c1","c2","c3","c4","c5","Total","Hits"],"paddingInner":0,"paddingOuter":0},
       "axis":{"orient":"top","title":"PATHWAY","titleAnchor":"start","titleAlign":"left","titleBaseline":"bottom","titleX":-11,"titleY":-1.5,"titleFont":"Liberation Serif","titleFontWeight":"bold","titleFontSize":4.2,"titleColor":"#222","labelExpr":"datum.value == 'Total' || datum.value == 'Hits' ? datum.value : ''","labelAngle":0,"labelFont":"Liberation Serif","labelFontWeight":"bold","labelFontSize":4.2,"labelColor":"#222","labelPadding":1.5,"ticks":false,"domain":false}},
      "text":{"field":"pathway","type":"nominal"}}},
    {"transform":[{"fold":["Total","Hits"],"as":["col","n"]}],
     "mark":{"type":"text","baseline":"middle","font":"Liberation Serif","fontWeight":"bold","fontSize":3.3,"color":"#222"},
     "encoding":{"x":{"field":"col","type":"nominal"},"text":{"field":"n","type":"quantitative"}}},
    {"data":{"values":[{"s":"c0"},{"s":"Hits"}]},"mark":{"type":"rule","color":"#555","strokeWidth":0.5,"xOffset":-11},
     "encoding":{"x":{"datum":"c0","type":"nominal","bandPosition":0},"x2":{"datum":"Hits","bandPosition":1},"y":{"value":0}}}
   ]},
  {"width":86,"height":245,
   "data":{"name":"cells"},
   "encoding":{
    "y":{"field":"o","type":"ordinal","axis":null,"scale":{"paddingInner":0,"paddingOuter":0}},
    "x":{"field":"slot","type":"ordinal","scale":{"domain":[1,2,3,4],"paddingInner":0,"paddingOuter":0},"axis":{"orient":"top","title":"Pathway associated metabolites","labels":false,"ticks":false,"domainColor":"#555","domainWidth":0.5,"titleFont":"Liberation Serif","titleFontWeight":"bold","titleFontSize":4.2,"titlePadding":1.5,"titleColor":"#222"}}},
   "layer":[
    {"mark":{"type":"rect"},
     "encoding":{"color":{"field":"fc","type":"quantitative","scale":{"type":"threshold","domain":[-3,-2,-1,0,1,2,3],"range":["#8a3b12","#c95b16","#ec8b4e","#f7c3a0","#d3e4f4","#a3c6e6","#3474b5","#1b4a82"]},
       "legend":{"orient":"none","legendX":173,"legendY":-9.5,"direction":"horizontal","title":"Log fold change","titleFont":"Liberation Serif","titleFontSize":3.3,"titleFontWeight":"bold","titleAnchor":"middle","gradientLength":57,"gradientThickness":5,"labelFontSize":2.5,"labelFont":"Liberation Serif","strokeColor":"#666","padding":2.5,"fillColor":"white","labelOverlap":false,"titlePadding":1.5}}}},
    {"mark":{"type":"text","align":"left","baseline":"middle","dx":-9.8,"font":"Liberation Serif","fontWeight":"bold","fontSize":2.8,"lineBreak":"|","lineHeight":3},
     "encoding":{"text":{"field":"met","type":"nominal"},"color":{"condition":{"test":"abs(datum.fc) > 2","value":"#ffffff"},"value":"#222222"}}}
   ]}
  ],"spacing":0},
 {"title":{"text":"D","anchor":"start","frame":"bounds","font":"Liberation Serif","fontSize":18,"fontWeight":"bold","offset":7.5,"dx":-10},
  "width":201,"height":206.5,
  "data":{"name":"impact"},
  "encoding":{
   "x":{"field":"impact","type":"quantitative","scale":{"domain":[-0.02,0.522],"nice":false,"zero":false},"axis":{"values":[0,0.1,0.2,0.3,0.4,0.5],"format":".1f","title":"Pathway Impact","titleFontWeight":"normal","titleFontSize":6.5,"titleColor":"#444","titlePadding":7,"labelFontSize":6.5,"labelColor":"#444","labelPadding":4,"tickSize":3,"tickColor":"#666","domainColor":"#666","grid":false}},
   "y":{"field":"logp","type":"quantitative","scale":{"domain":[0,5.24],"nice":false},"axis":{"values":[1,2,3,4,5],"title":"-log(p)","titleFontWeight":"normal","titleFontSize":6.5,"titleColor":"#444","titlePadding":6,"titleY":110,"labelFontSize":6.5,"labelColor":"#444","labelAngle":-90,"labelAlign":"center","labelBaseline":"bottom","labelPadding":1,"tickSize":3,"tickColor":"#666","domain":false,"grid":true,"gridColor":"#6a6af0","gridDash":[1,1.5],"gridWidth":0.8}}},
  "layer":[
   {"data":{"values":[{"g":0.1},{"g":0.2},{"g":0.3},{"g":0.4},{"g":0.5}]},"mark":{"type":"rule","color":"#6a6af0","strokeDash":[1,1.5],"strokeWidth":0.8},"encoding":{"x":{"field":"g","type":"quantitative"},"y":{"datum":0,"type":"quantitative"},"y2":{"datum":5.05}}},
   {"data":{"values":[{}]},"mark":{"type":"rule","color":"#666","strokeWidth":1},"encoding":{"x":{"datum":-0.02,"type":"quantitative"},"y":{"datum":0,"type":"quantitative"},"y2":{"datum":5.05}}},
   {"mark":{"type":"circle","stroke":"#555","strokeWidth":0.6,"opacity":1},
    "encoding":{"size":{"field":"impact","type":"quantitative","scale":{"domain":[0,0.5],"range":[8,150],"zero":false},"legend":null},
     "color":{"field":"logp","type":"quantitative","scale":{"domain":[0.2,0.5,0.8,1.1,1.4,1.8,2.6,5],"range":["#fffff0","#ffff80","#f6e830","#f0b424","#e27a36","#e24818","#f02000","#ee1000"]},"legend":null},
     "order":{"field":"logp","type":"quantitative"}}},
   {"transform":[{"filter":{"field":"pathway","oneOf":["Alanine, aspartate and glutamate metabolism"]}}],"mark":{"type":"text","align":"left","baseline":"top","dx":7,"dy":1,"fontSize":5.8,"color":"#333","lineBreak":"|","lineHeight":7.3},"encoding":{"text":{"field":"label"}}},
   {"transform":[{"filter":{"field":"pathway","oneOf":["D-Glutamine and D-glutamate metabolism"]}}],"mark":{"type":"text","align":"left","baseline":"bottom","dx":3,"dy":-11.5,"fontSize":5.8,"color":"#333","lineBreak":"|","lineHeight":7.3},"encoding":{"text":{"field":"label"}}},
   {"transform":[{"filter":{"field":"pathway","oneOf":["Arginine and proline metabolism"]}}],"mark":{"type":"text","align":"left","baseline":"middle","dx":9,"dy":-4,"fontSize":5.8,"color":"#333"},"encoding":{"text":{"field":"label"}}},
   {"transform":[{"filter":{"field":"pathway","oneOf":["Citrate cycle (TCA cycle)"]}}],"mark":{"type":"text","align":"left","baseline":"middle","dx":6,"dy":-4.3,"fontSize":5.8,"color":"#333"},"encoding":{"text":{"field":"label"}}},
   {"transform":[{"filter":{"field":"pathway","oneOf":["Glycine, serine and threonine metabolism"]}}],"mark":{"type":"text","align":"left","baseline":"top","dx":-24,"dy":5,"fontSize":5.8,"color":"#333","lineBreak":"|","lineHeight":7.3},"encoding":{"text":{"field":"label"}}},
   {"transform":[{"filter":{"field":"pathway","oneOf":["beta-Alanine metabolism"]}}],"mark":{"type":"text","align":"right","baseline":"middle","dx":-8,"fontSize":5.8,"color":"#333"},"encoding":{"text":{"field":"label"}}},
   {"transform":[{"filter":{"field":"pathway","oneOf":["Phenylalanine, tyrosine and tryptophan biosynthesis"]}}],"mark":{"type":"text","align":"left","baseline":"top","dx":-55,"dy":7.5,"fontSize":5.8,"color":"#333","lineBreak":"|","lineHeight":7.3},"encoding":{"text":{"field":"label"}}}
  ]}
],"columns":2,"align":"none","spacing":26}
],
"columns":1,"align":"none","spacing":-1.5
}
